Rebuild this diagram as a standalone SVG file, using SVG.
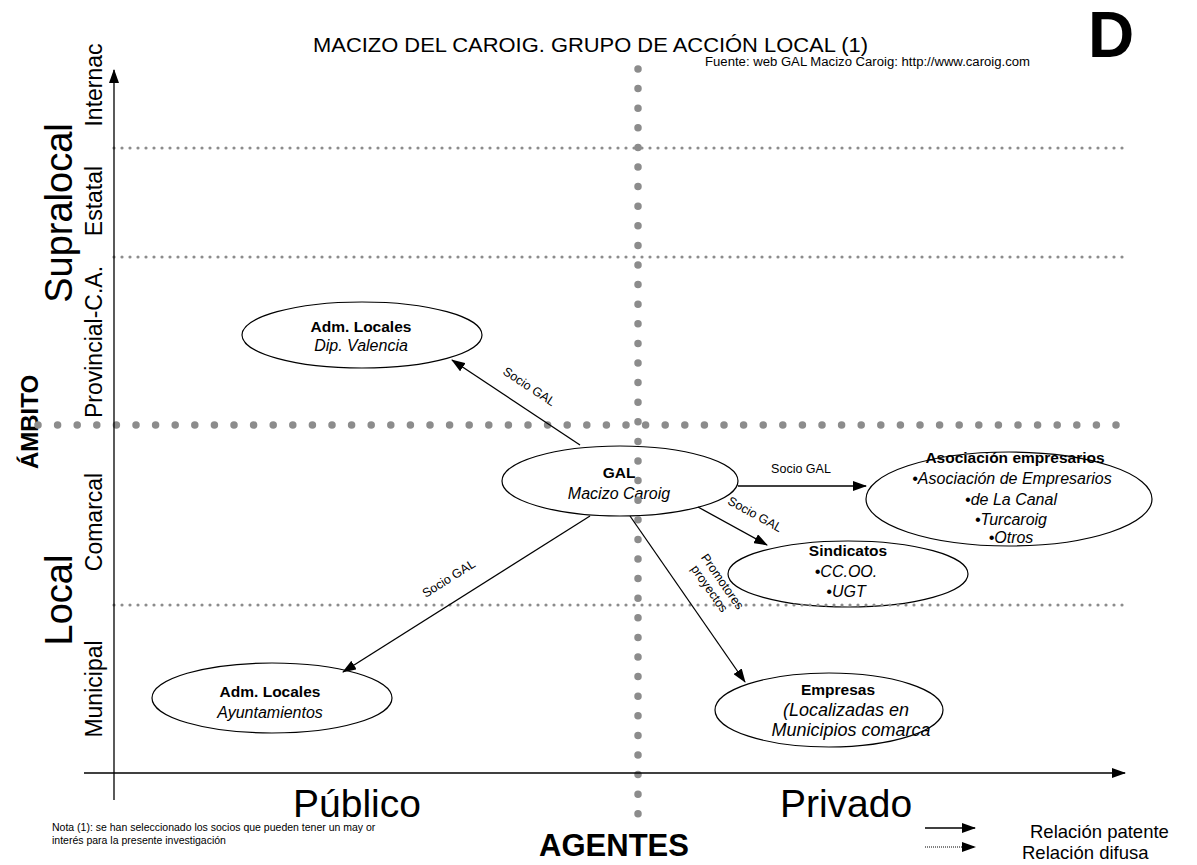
<svg xmlns="http://www.w3.org/2000/svg" width="1197" height="865" viewBox="0 0 1197 865">
<style>
text{font-family:"Liberation Sans",Arial,sans-serif;fill:#000}
.node ellipse{fill:#fff;stroke:#000;stroke-width:1.2}
.t{font-size:15.5px;font-weight:bold;text-anchor:middle}
.i{font-size:16px;font-style:italic;text-anchor:middle}
.i20{font-size:18px;font-style:italic;text-anchor:middle}
.lbl{font-size:12.5px;text-anchor:middle}
.axl{font-size:23px;text-anchor:middle}
.big{font-size:39px;text-anchor:middle}
.big38{font-size:38px;text-anchor:middle}
.sm{stroke:#8c8c8c;stroke-width:3.2;stroke-linecap:round;stroke-dasharray:0 8;fill:none}
.bg{stroke:#8c8c8c;stroke-width:7.5;stroke-linecap:round;stroke-dasharray:0 19.6;fill:none}
.conn line{stroke:#000;stroke-width:1.3}
</style>
<defs>
<marker id="ah" markerWidth="14" markerHeight="10" refX="13" refY="5" orient="auto" markerUnits="userSpaceOnUse">
<path d="M0,0 L14,5 L0,10 z" fill="#000"/>
</marker>
</defs>
<rect width="1197" height="865" fill="#fff"/>

<!-- titles -->
<text x="313" y="52" font-size="20" textLength="555" lengthAdjust="spacingAndGlyphs">MACIZO DEL CAROIG. GRUPO DE ACCIÓN LOCAL (1)</text>
<text x="705" y="66" font-size="12" textLength="325" lengthAdjust="spacingAndGlyphs">Fuente: web GAL Macizo Caroig: http://www.caroig.com</text>
<text x="1088" y="57" font-size="64" font-weight="bold">D</text>

<!-- axis labels -->
<g id="axis-labels">
<text class="big38" transform="translate(72,213) rotate(-90)">Supralocal</text>
<text class="big38" transform="translate(72,600) rotate(-90)">Local</text>
<text transform="translate(38,422) rotate(-90)" font-size="24" font-weight="bold" text-anchor="middle">ÁMBITO</text>
<text class="axl" transform="translate(102,85) rotate(-90)">Internac</text>
<text class="axl" transform="translate(102,201) rotate(-90)">Estatal</text>
<text class="axl" transform="translate(102,342) rotate(-90)">Provincial-C.A.</text>
<text class="axl" transform="translate(102,522) rotate(-90)">Comarcal</text>
<text class="axl" transform="translate(102,689) rotate(-90)">Municipal</text>
<text class="big" x="357" y="817">Público</text>
<text class="big" x="846" y="817">Privado</text>
<text x="614" y="856" font-size="31" font-weight="bold" text-anchor="middle">AGENTES</text>
</g>

<!-- nodes -->
<g id="n-dip" class="node">
<ellipse cx="362" cy="335" rx="120" ry="33"/>
<text class="t" x="361" y="332">Adm. Locales</text>
<text class="i" x="361" y="351">Dip. Valencia</text>
</g>
<g id="n-gal" class="node">
<ellipse cx="620" cy="481" rx="118" ry="35"/>
<text class="t" x="619" y="478">GAL</text>
<text class="i" x="619" y="499">Macizo Caroig</text>
</g>
<g id="n-asoc" class="node">
<ellipse cx="1009" cy="499" rx="143" ry="47"/>
<text class="t" x="1015" y="463">Asociación empresarios</text>
<text class="i" x="1012" y="484">•Asociación de Empresarios</text>
<text class="i" x="1011" y="505">•de La Canal</text>
<text class="i" x="1011" y="525">•Turcaroig</text>
<text class="i" x="1011" y="543">•Otros</text>
</g>
<g id="n-sind" class="node">
<ellipse cx="848" cy="574" rx="120" ry="33"/>
<text class="t" x="848" y="556">Sindicatos</text>
<text class="i" x="846" y="577">•CC.OO.</text>
<text class="i" x="846" y="597">•UGT</text>
</g>
<g id="n-ayto" class="node">
<ellipse cx="272" cy="698" rx="120" ry="35"/>
<text class="t" x="270" y="697">Adm. Locales</text>
<text class="i" x="270" y="718">Ayuntamientos</text>
</g>
<g id="n-emp" class="node">
<ellipse cx="829" cy="710" rx="114" ry="37"/>
<text class="t" x="838" y="695">Empresas</text>
<text class="i20" x="846" y="716">(Localizadas en</text>
<text class="i20" x="851" y="736">Municipios comarca</text>
</g>

<!-- grid -->
<g id="grid">
<line class="sm" x1="114" y1="148" x2="1125" y2="148"/>
<line class="sm" x1="114" y1="257" x2="1125" y2="257"/>
<line class="sm" x1="114" y1="605" x2="1125" y2="605"/>
<line class="bg" x1="38" y1="425" x2="1125" y2="425"/>
<line class="bg" x1="638" y1="69" x2="638" y2="830"/>
</g>

<!-- axes -->
<g id="axes">
<line x1="114" y1="800" x2="114" y2="70" stroke="#000" stroke-width="1.3" marker-end="url(#ah)"/>
<line x1="84" y1="773" x2="1125" y2="773" stroke="#000" stroke-width="1.3" marker-end="url(#ah)"/>
</g>

<!-- connectors -->
<g id="connectors" class="conn">
<line x1="580" y1="445" x2="452" y2="360" marker-end="url(#ah)"/>
<line x1="590" y1="516" x2="343" y2="672" marker-end="url(#ah)"/>
<line x1="738" y1="486" x2="866" y2="486" marker-end="url(#ah)"/>
<line x1="698" y1="507" x2="767" y2="545" marker-end="url(#ah)"/>
<line x1="630" y1="516" x2="745" y2="682" marker-end="url(#ah)"/>
<text class="lbl" transform="translate(527,390) rotate(33.6)">Socio GAL</text>
<text class="lbl" transform="translate(451,582) rotate(-32.3)">Socio GAL</text>
<text class="lbl" x="801" y="473">Socio GAL</text>
<text class="lbl" transform="translate(753,518) rotate(29)">Socio GAL</text>
<text class="lbl" transform="translate(719,584) rotate(55)">Promotores</text>
<text class="lbl" transform="translate(706,591) rotate(55)">proyectos</text>
</g>

<!-- note and legend -->
<text x="52" y="831" font-size="10.5">Nota (1): se han seleccionado los socios que pueden tener un may or</text>
<text x="52" y="844" font-size="10.5">interés para la presente investigación</text>
<g id="legend">
<line x1="925" y1="828" x2="975" y2="828" stroke="#000" stroke-width="1.3" marker-end="url(#ah)"/>
<line x1="925" y1="847" x2="975" y2="847" stroke="#000" stroke-width="1" stroke-dasharray="1 1" marker-end="url(#ah)"/>
<text x="1030" y="838" font-size="18.5">Relación patente</text>
<text x="1022" y="859" font-size="18.5">Relación difusa</text>
</g>
</svg>
